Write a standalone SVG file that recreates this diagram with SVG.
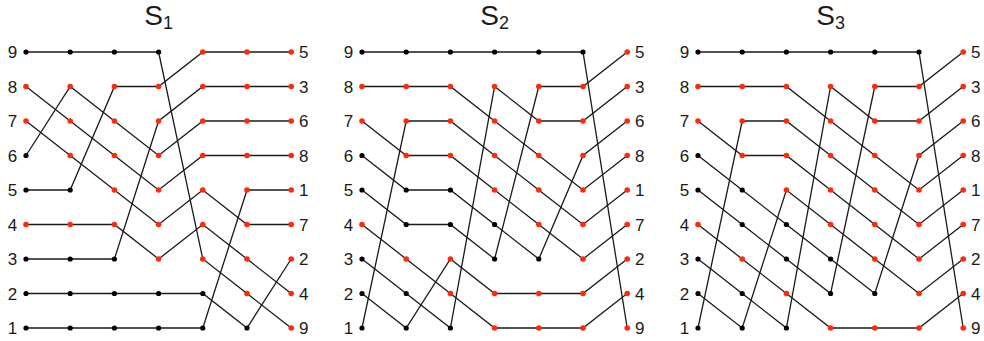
<svg xmlns="http://www.w3.org/2000/svg" width="984" height="341" viewBox="0 0 984 341">
<style>
  .bg{fill:#ffffff}
  .ln{fill:none;stroke:#1a1a1a;stroke-width:1.3;stroke-linejoin:miter}
  .b{fill:#000000}
  .r{fill:#ff2a0a}
  .lab{font-family:"Liberation Sans",Arial,sans-serif;font-size:17px;fill:#1a1a1a;text-anchor:middle}
  .ttl{font-family:"Liberation Sans",Arial,sans-serif;font-size:28px;fill:#1a1a1a;text-anchor:middle}
</style>
<rect class="bg" x="0" y="0" width="984" height="341"/>

<!-- ================= PANEL S1 ================= -->
<g id="panel-s1" transform="translate(26,0)">
  <text class="ttl" x="132.6" y="25">S<tspan font-size="18" dy="4">1</tspan></text>
  <g id="s1-connectors">
    <polyline class="ln" points="0,52 44.2,52 88.4,52 132.6,52 176.8,259 221,293.5 265.2,328"/>
    <polyline class="ln" points="0,86.5 44.2,121 88.4,155.5 132.6,190 176.8,155.5 221,155.5 265.2,155.5"/>
    <polyline class="ln" points="0,121 44.2,155.5 88.4,190 132.6,224.5 176.8,190 221,224.5 265.2,224.5"/>
    <polyline class="ln" points="0,155.5 44.2,86.5 88.4,121 132.6,155.5 176.8,121 221,121 265.2,121"/>
    <polyline class="ln" points="0,190 44.2,190 88.4,86.5 132.6,86.5 176.8,52 221,52 265.2,52"/>
    <polyline class="ln" points="0,224.5 44.2,224.5 88.4,224.5 132.6,259 176.8,224.5 221,259 265.2,293.5"/>
    <polyline class="ln" points="0,259 44.2,259 88.4,259 132.6,121 176.8,86.5 221,86.5 265.2,86.5"/>
    <polyline class="ln" points="0,293.5 44.2,293.5 88.4,293.5 132.6,293.5 176.8,293.5 221,328 265.2,259"/>
    <polyline class="ln" points="0,328 44.2,328 88.4,328 132.6,328 176.8,328 221,190 265.2,190"/>
  </g>
  <g id="s1-nodes">
    <g id="s1-p9"><circle class="b" cx="0" cy="52" r="2.6"/><circle class="b" cx="44.2" cy="52" r="2.6"/><circle class="b" cx="88.4" cy="52" r="2.6"/><circle class="b" cx="132.6" cy="52" r="2.6"/><circle class="r" cx="176.8" cy="259" r="2.8"/><circle class="r" cx="221" cy="293.5" r="2.8"/><circle class="r" cx="265.2" cy="328" r="2.8"/></g>
    <g id="s1-p8"><circle class="r" cx="0" cy="86.5" r="2.8"/><circle class="r" cx="44.2" cy="121" r="2.8"/><circle class="r" cx="88.4" cy="155.5" r="2.8"/><circle class="r" cx="132.6" cy="190" r="2.8"/><circle class="r" cx="176.8" cy="155.5" r="2.8"/><circle class="r" cx="221" cy="155.5" r="2.8"/><circle class="r" cx="265.2" cy="155.5" r="2.8"/></g>
    <g id="s1-p7"><circle class="r" cx="0" cy="121" r="2.8"/><circle class="r" cx="44.2" cy="155.5" r="2.8"/><circle class="r" cx="88.4" cy="190" r="2.8"/><circle class="r" cx="132.6" cy="224.5" r="2.8"/><circle class="r" cx="176.8" cy="190" r="2.8"/><circle class="r" cx="221" cy="224.5" r="2.8"/><circle class="r" cx="265.2" cy="224.5" r="2.8"/></g>
    <g id="s1-p6"><circle class="b" cx="0" cy="155.5" r="2.6"/><circle class="r" cx="44.2" cy="86.5" r="2.8"/><circle class="r" cx="88.4" cy="121" r="2.8"/><circle class="r" cx="132.6" cy="155.5" r="2.8"/><circle class="r" cx="176.8" cy="121" r="2.8"/><circle class="r" cx="221" cy="121" r="2.8"/><circle class="r" cx="265.2" cy="121" r="2.8"/></g>
    <g id="s1-p5"><circle class="b" cx="0" cy="190" r="2.6"/><circle class="b" cx="44.2" cy="190" r="2.6"/><circle class="r" cx="88.4" cy="86.5" r="2.8"/><circle class="r" cx="132.6" cy="86.5" r="2.8"/><circle class="r" cx="176.8" cy="52" r="2.8"/><circle class="r" cx="221" cy="52" r="2.8"/><circle class="r" cx="265.2" cy="52" r="2.8"/></g>
    <g id="s1-p4"><circle class="r" cx="0" cy="224.5" r="2.8"/><circle class="r" cx="44.2" cy="224.5" r="2.8"/><circle class="r" cx="88.4" cy="224.5" r="2.8"/><circle class="r" cx="132.6" cy="259" r="2.8"/><circle class="r" cx="176.8" cy="224.5" r="2.8"/><circle class="r" cx="221" cy="259" r="2.8"/><circle class="r" cx="265.2" cy="293.5" r="2.8"/></g>
    <g id="s1-p3"><circle class="b" cx="0" cy="259" r="2.6"/><circle class="b" cx="44.2" cy="259" r="2.6"/><circle class="b" cx="88.4" cy="259" r="2.6"/><circle class="r" cx="132.6" cy="121" r="2.8"/><circle class="r" cx="176.8" cy="86.5" r="2.8"/><circle class="r" cx="221" cy="86.5" r="2.8"/><circle class="r" cx="265.2" cy="86.5" r="2.8"/></g>
    <g id="s1-p2"><circle class="b" cx="0" cy="293.5" r="2.6"/><circle class="b" cx="44.2" cy="293.5" r="2.6"/><circle class="b" cx="88.4" cy="293.5" r="2.6"/><circle class="b" cx="132.6" cy="293.5" r="2.6"/><circle class="b" cx="176.8" cy="293.5" r="2.6"/><circle class="b" cx="221" cy="328" r="2.6"/><circle class="r" cx="265.2" cy="259" r="2.8"/></g>
    <g id="s1-p1"><circle class="b" cx="0" cy="328" r="2.6"/><circle class="b" cx="44.2" cy="328" r="2.6"/><circle class="b" cx="88.4" cy="328" r="2.6"/><circle class="b" cx="132.6" cy="328" r="2.6"/><circle class="b" cx="176.8" cy="328" r="2.6"/><circle class="r" cx="221" cy="190" r="2.8"/><circle class="r" cx="265.2" cy="190" r="2.8"/></g>
  </g>
  <g id="s1-labels">
    <text class="lab" x="-13.5" y="58">9</text><text class="lab" x="-13.5" y="92.5">8</text><text class="lab" x="-13.5" y="127">7</text><text class="lab" x="-13.5" y="161.5">6</text><text class="lab" x="-13.5" y="196">5</text><text class="lab" x="-13.5" y="230.5">4</text><text class="lab" x="-13.5" y="265">3</text><text class="lab" x="-13.5" y="299.5">2</text><text class="lab" x="-13.5" y="334">1</text>
    <text class="lab" x="277.7" y="58">5</text><text class="lab" x="277.7" y="92.5">3</text><text class="lab" x="277.7" y="127">6</text><text class="lab" x="277.7" y="161.5">8</text><text class="lab" x="277.7" y="196">1</text><text class="lab" x="277.7" y="230.5">7</text><text class="lab" x="277.7" y="265">2</text><text class="lab" x="277.7" y="299.5">4</text><text class="lab" x="277.7" y="334">9</text>
  </g>
</g>

<!-- ================= PANEL S2 ================= -->
<g id="panel-s2" transform="translate(362,0)">
  <text class="ttl" x="132.6" y="25">S<tspan font-size="18" dy="4">2</tspan></text>
  <g id="s2-connectors">
    <polyline class="ln" points="0,52 44.2,52 88.4,52 132.6,52 176.8,52 221,52 265.2,328"/>
    <polyline class="ln" points="0,86.5 44.2,86.5 88.4,86.5 132.6,121 176.8,155.5 221,190 265.2,155.5"/>
    <polyline class="ln" points="0,121 44.2,155.5 88.4,155.5 132.6,190 176.8,224.5 221,259 265.2,224.5"/>
    <polyline class="ln" points="0,155.5 44.2,190 88.4,190 132.6,224.5 176.8,259 221,155.5 265.2,121"/>
    <polyline class="ln" points="0,190 44.2,224.5 88.4,224.5 132.6,259 176.8,86.5 221,86.5 265.2,52"/>
    <polyline class="ln" points="0,224.5 44.2,259 88.4,293.5 132.6,328 176.8,328 221,328 265.2,293.5"/>
    <polyline class="ln" points="0,259 44.2,293.5 88.4,328 132.6,86.5 176.8,121 221,121 265.2,86.5"/>
    <polyline class="ln" points="0,293.5 44.2,328 88.4,259 132.6,293.5 176.8,293.5 221,293.5 265.2,259"/>
    <polyline class="ln" points="0,328 44.2,121 88.4,121 132.6,155.5 176.8,190 221,224.5 265.2,190"/>
  </g>
  <g id="s2-nodes">
    <g id="s2-p9"><circle class="b" cx="0" cy="52" r="2.6"/><circle class="b" cx="44.2" cy="52" r="2.6"/><circle class="b" cx="88.4" cy="52" r="2.6"/><circle class="b" cx="132.6" cy="52" r="2.6"/><circle class="b" cx="176.8" cy="52" r="2.6"/><circle class="b" cx="221" cy="52" r="2.6"/><circle class="r" cx="265.2" cy="328" r="2.8"/></g>
    <g id="s2-p8"><circle class="r" cx="0" cy="86.5" r="2.8"/><circle class="r" cx="44.2" cy="86.5" r="2.8"/><circle class="r" cx="88.4" cy="86.5" r="2.8"/><circle class="r" cx="132.6" cy="121" r="2.8"/><circle class="r" cx="176.8" cy="155.5" r="2.8"/><circle class="r" cx="221" cy="190" r="2.8"/><circle class="r" cx="265.2" cy="155.5" r="2.8"/></g>
    <g id="s2-p7"><circle class="r" cx="0" cy="121" r="2.8"/><circle class="r" cx="44.2" cy="155.5" r="2.8"/><circle class="r" cx="88.4" cy="155.5" r="2.8"/><circle class="r" cx="132.6" cy="190" r="2.8"/><circle class="r" cx="176.8" cy="224.5" r="2.8"/><circle class="r" cx="221" cy="259" r="2.8"/><circle class="r" cx="265.2" cy="224.5" r="2.8"/></g>
    <g id="s2-p6"><circle class="b" cx="0" cy="155.5" r="2.6"/><circle class="b" cx="44.2" cy="190" r="2.6"/><circle class="b" cx="88.4" cy="190" r="2.6"/><circle class="b" cx="132.6" cy="224.5" r="2.6"/><circle class="b" cx="176.8" cy="259" r="2.6"/><circle class="r" cx="221" cy="155.5" r="2.8"/><circle class="r" cx="265.2" cy="121" r="2.8"/></g>
    <g id="s2-p5"><circle class="b" cx="0" cy="190" r="2.6"/><circle class="b" cx="44.2" cy="224.5" r="2.6"/><circle class="b" cx="88.4" cy="224.5" r="2.6"/><circle class="b" cx="132.6" cy="259" r="2.6"/><circle class="r" cx="176.8" cy="86.5" r="2.8"/><circle class="r" cx="221" cy="86.5" r="2.8"/><circle class="r" cx="265.2" cy="52" r="2.8"/></g>
    <g id="s2-p4"><circle class="r" cx="0" cy="224.5" r="2.8"/><circle class="r" cx="44.2" cy="259" r="2.8"/><circle class="r" cx="88.4" cy="293.5" r="2.8"/><circle class="r" cx="132.6" cy="328" r="2.8"/><circle class="r" cx="176.8" cy="328" r="2.8"/><circle class="r" cx="221" cy="328" r="2.8"/><circle class="r" cx="265.2" cy="293.5" r="2.8"/></g>
    <g id="s2-p3"><circle class="b" cx="0" cy="259" r="2.6"/><circle class="b" cx="44.2" cy="293.5" r="2.6"/><circle class="b" cx="88.4" cy="328" r="2.6"/><circle class="r" cx="132.6" cy="86.5" r="2.8"/><circle class="r" cx="176.8" cy="121" r="2.8"/><circle class="r" cx="221" cy="121" r="2.8"/><circle class="r" cx="265.2" cy="86.5" r="2.8"/></g>
    <g id="s2-p2"><circle class="b" cx="0" cy="293.5" r="2.6"/><circle class="b" cx="44.2" cy="328" r="2.6"/><circle class="r" cx="88.4" cy="259" r="2.8"/><circle class="r" cx="132.6" cy="293.5" r="2.8"/><circle class="r" cx="176.8" cy="293.5" r="2.8"/><circle class="r" cx="221" cy="293.5" r="2.8"/><circle class="r" cx="265.2" cy="259" r="2.8"/></g>
    <g id="s2-p1"><circle class="b" cx="0" cy="328" r="2.6"/><circle class="r" cx="44.2" cy="121" r="2.8"/><circle class="r" cx="88.4" cy="121" r="2.8"/><circle class="r" cx="132.6" cy="155.5" r="2.8"/><circle class="r" cx="176.8" cy="190" r="2.8"/><circle class="r" cx="221" cy="224.5" r="2.8"/><circle class="r" cx="265.2" cy="190" r="2.8"/></g>
  </g>
  <g id="s2-labels">
    <text class="lab" x="-13.5" y="58">9</text><text class="lab" x="-13.5" y="92.5">8</text><text class="lab" x="-13.5" y="127">7</text><text class="lab" x="-13.5" y="161.5">6</text><text class="lab" x="-13.5" y="196">5</text><text class="lab" x="-13.5" y="230.5">4</text><text class="lab" x="-13.5" y="265">3</text><text class="lab" x="-13.5" y="299.5">2</text><text class="lab" x="-13.5" y="334">1</text>
    <text class="lab" x="277.7" y="58">5</text><text class="lab" x="277.7" y="92.5">3</text><text class="lab" x="277.7" y="127">6</text><text class="lab" x="277.7" y="161.5">8</text><text class="lab" x="277.7" y="196">1</text><text class="lab" x="277.7" y="230.5">7</text><text class="lab" x="277.7" y="265">2</text><text class="lab" x="277.7" y="299.5">4</text><text class="lab" x="277.7" y="334">9</text>
  </g>
</g>

<!-- ================= PANEL S3 ================= -->
<g id="panel-s3" transform="translate(698,0)">
  <text class="ttl" x="132.6" y="25">S<tspan font-size="18" dy="4">3</tspan></text>
  <g id="s3-connectors">
    <polyline class="ln" points="0,52 44.2,52 88.4,52 132.6,52 176.8,52 221,52 265.2,328"/>
    <polyline class="ln" points="0,86.5 44.2,86.5 88.4,86.5 132.6,121 176.8,155.5 221,190 265.2,155.5"/>
    <polyline class="ln" points="0,121 44.2,155.5 88.4,155.5 132.6,190 176.8,224.5 221,259 265.2,224.5"/>
    <polyline class="ln" points="0,155.5 44.2,190 88.4,224.5 132.6,259 176.8,293.5 221,155.5 265.2,121"/>
    <polyline class="ln" points="0,190 44.2,224.5 88.4,259 132.6,293.5 176.8,86.5 221,86.5 265.2,52"/>
    <polyline class="ln" points="0,224.5 44.2,259 88.4,293.5 132.6,328 176.8,328 221,328 265.2,293.5"/>
    <polyline class="ln" points="0,259 44.2,293.5 88.4,328 132.6,86.5 176.8,121 221,121 265.2,86.5"/>
    <polyline class="ln" points="0,293.5 44.2,328 88.4,190 132.6,224.5 176.8,259 221,293.5 265.2,259"/>
    <polyline class="ln" points="0,328 44.2,121 88.4,121 132.6,155.5 176.8,190 221,224.5 265.2,190"/>
  </g>
  <g id="s3-nodes">
    <g id="s3-p9"><circle class="b" cx="0" cy="52" r="2.6"/><circle class="b" cx="44.2" cy="52" r="2.6"/><circle class="b" cx="88.4" cy="52" r="2.6"/><circle class="b" cx="132.6" cy="52" r="2.6"/><circle class="b" cx="176.8" cy="52" r="2.6"/><circle class="b" cx="221" cy="52" r="2.6"/><circle class="r" cx="265.2" cy="328" r="2.8"/></g>
    <g id="s3-p8"><circle class="r" cx="0" cy="86.5" r="2.8"/><circle class="r" cx="44.2" cy="86.5" r="2.8"/><circle class="r" cx="88.4" cy="86.5" r="2.8"/><circle class="r" cx="132.6" cy="121" r="2.8"/><circle class="r" cx="176.8" cy="155.5" r="2.8"/><circle class="r" cx="221" cy="190" r="2.8"/><circle class="r" cx="265.2" cy="155.5" r="2.8"/></g>
    <g id="s3-p7"><circle class="r" cx="0" cy="121" r="2.8"/><circle class="r" cx="44.2" cy="155.5" r="2.8"/><circle class="r" cx="88.4" cy="155.5" r="2.8"/><circle class="r" cx="132.6" cy="190" r="2.8"/><circle class="r" cx="176.8" cy="224.5" r="2.8"/><circle class="r" cx="221" cy="259" r="2.8"/><circle class="r" cx="265.2" cy="224.5" r="2.8"/></g>
    <g id="s3-p6"><circle class="b" cx="0" cy="155.5" r="2.6"/><circle class="b" cx="44.2" cy="190" r="2.6"/><circle class="b" cx="88.4" cy="224.5" r="2.6"/><circle class="b" cx="132.6" cy="259" r="2.6"/><circle class="b" cx="176.8" cy="293.5" r="2.6"/><circle class="r" cx="221" cy="155.5" r="2.8"/><circle class="r" cx="265.2" cy="121" r="2.8"/></g>
    <g id="s3-p5"><circle class="b" cx="0" cy="190" r="2.6"/><circle class="b" cx="44.2" cy="224.5" r="2.6"/><circle class="b" cx="88.4" cy="259" r="2.6"/><circle class="b" cx="132.6" cy="293.5" r="2.6"/><circle class="r" cx="176.8" cy="86.5" r="2.8"/><circle class="r" cx="221" cy="86.5" r="2.8"/><circle class="r" cx="265.2" cy="52" r="2.8"/></g>
    <g id="s3-p4"><circle class="r" cx="0" cy="224.5" r="2.8"/><circle class="r" cx="44.2" cy="259" r="2.8"/><circle class="r" cx="88.4" cy="293.5" r="2.8"/><circle class="r" cx="132.6" cy="328" r="2.8"/><circle class="r" cx="176.8" cy="328" r="2.8"/><circle class="r" cx="221" cy="328" r="2.8"/><circle class="r" cx="265.2" cy="293.5" r="2.8"/></g>
    <g id="s3-p3"><circle class="b" cx="0" cy="259" r="2.6"/><circle class="b" cx="44.2" cy="293.5" r="2.6"/><circle class="b" cx="88.4" cy="328" r="2.6"/><circle class="r" cx="132.6" cy="86.5" r="2.8"/><circle class="r" cx="176.8" cy="121" r="2.8"/><circle class="r" cx="221" cy="121" r="2.8"/><circle class="r" cx="265.2" cy="86.5" r="2.8"/></g>
    <g id="s3-p2"><circle class="b" cx="0" cy="293.5" r="2.6"/><circle class="b" cx="44.2" cy="328" r="2.6"/><circle class="r" cx="88.4" cy="190" r="2.8"/><circle class="r" cx="132.6" cy="224.5" r="2.8"/><circle class="r" cx="176.8" cy="259" r="2.8"/><circle class="r" cx="221" cy="293.5" r="2.8"/><circle class="r" cx="265.2" cy="259" r="2.8"/></g>
    <g id="s3-p1"><circle class="b" cx="0" cy="328" r="2.6"/><circle class="r" cx="44.2" cy="121" r="2.8"/><circle class="r" cx="88.4" cy="121" r="2.8"/><circle class="r" cx="132.6" cy="155.5" r="2.8"/><circle class="r" cx="176.8" cy="190" r="2.8"/><circle class="r" cx="221" cy="224.5" r="2.8"/><circle class="r" cx="265.2" cy="190" r="2.8"/></g>
  </g>
  <g id="s3-labels">
    <text class="lab" x="-13.5" y="58">9</text><text class="lab" x="-13.5" y="92.5">8</text><text class="lab" x="-13.5" y="127">7</text><text class="lab" x="-13.5" y="161.5">6</text><text class="lab" x="-13.5" y="196">5</text><text class="lab" x="-13.5" y="230.5">4</text><text class="lab" x="-13.5" y="265">3</text><text class="lab" x="-13.5" y="299.5">2</text><text class="lab" x="-13.5" y="334">1</text>
    <text class="lab" x="277.7" y="58">5</text><text class="lab" x="277.7" y="92.5">3</text><text class="lab" x="277.7" y="127">6</text><text class="lab" x="277.7" y="161.5">8</text><text class="lab" x="277.7" y="196">1</text><text class="lab" x="277.7" y="230.5">7</text><text class="lab" x="277.7" y="265">2</text><text class="lab" x="277.7" y="299.5">4</text><text class="lab" x="277.7" y="334">9</text>
  </g>
</g>
</svg>
